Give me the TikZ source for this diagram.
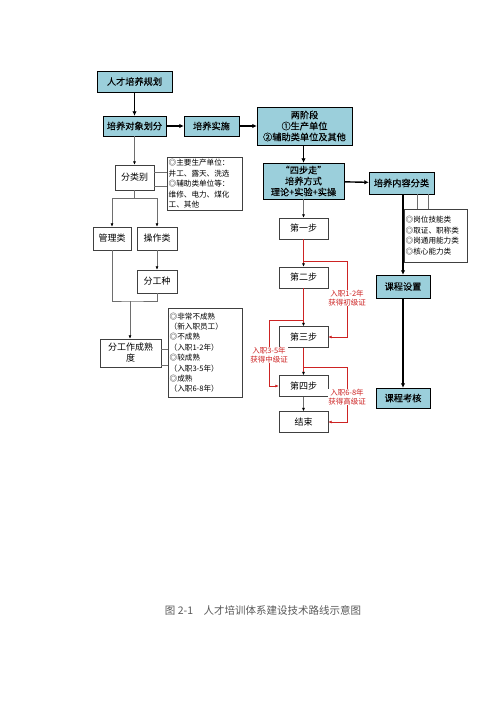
\documentclass[tikz,border=0pt]{standalone}
\usepackage{fontspec}
\setmainfont{Noto Sans CJK SC}
\newfontfamily\darkfont{Noto Sans CJK SC}[FakeBold=0.3]
\usetikzlibrary{arrows.meta}

\definecolor{boxblue}{RGB}{155,207,219}
\definecolor{linegray}{RGB}{110,110,110}
\definecolor{stepred}{RGB}{205,35,35}

\tikzstyle{bluebox}=[draw=black,fill=boxblue,inner sep=0pt,align=center,font=\darkfont\fontsize{9.2}{11}\selectfont]
\tikzstyle{whitebox}=[draw=black!75,fill=white,inner sep=0pt,align=center,font=\fontsize{9}{11}\selectfont]
\tikzstyle{notebox}=[draw=black!75,fill=white,inner sep=1.5pt,align=left,anchor=north west,font=\fontsize{7.6}{10.4}\selectfont]
\tikzstyle{thick arrow}=[draw=black,line width=1.4pt,-{Latex[length=4.5pt,width=4.5pt]}]
\tikzstyle{thin arrow}=[draw=linegray,line width=0.6pt,-{Latex[length=3.5pt,width=3pt,color=black]}]
\tikzstyle{thin line}=[draw=linegray,line width=0.6pt]
\tikzstyle{red arrow}=[draw=stepred,line width=0.6pt,-{Latex[length=3.5pt,width=3pt]}]
\tikzstyle{red label}=[fill=white,text=stepred,inner sep=0.5pt,align=center,font=\fontsize{7.5}{9}\selectfont]

\begin{document}
\begin{tikzpicture}[x=1pt,y=-1pt]
   \useasboundingbox (0,0) rectangle (500,708);

   % left column
   \node[bluebox,minimum width=75pt,minimum height=21pt] (plan) at (134.5,81.5) {人才培养规划};
   \node[bluebox,minimum width=63pt,minimum height=20pt] (target) at (134.5,126) {培养对象划分};
   \node[bluebox,minimum width=55pt,minimum height=20pt] (impl) at (211.5,126) {培养实施};
   \node[whitebox,minimum width=39pt,minimum height=25pt] (sort) at (134.5,177.5) {分类别};
   \node[notebox,text width=72pt,minimum height=53pt] (sortnote) at (167,157)
      {◎主要生产单位：\\井工、露天、洗选\\◎辅助类单位等：\\维修、电力、煤化\\工、其他};
   \node[whitebox,minimum width=38pt,minimum height=23pt] (manage) at (112,238.5) {管理类};
   \node[whitebox,minimum width=40pt,minimum height=23pt] (operate) at (157,238.5) {操作类};
   \node[whitebox,minimum width=40pt,minimum height=23pt] (trade) at (157,281.5) {分工种};
   \node[whitebox,minimum width=61pt,minimum height=28pt] (mature) at (130.5,353) {分工作成熟\\度};
   \node[notebox,text width=71pt,minimum height=89pt] (maturenote) at (168,308)
      {◎非常不成熟\\（新入职员工）\\◎不成熟\\（入职1-2年）\\◎较成熟\\（入职3-5年）\\◎成熟\\（入职6-8年）};

   % middle column
   \node[bluebox,minimum width=95pt,minimum height=38pt] (stages) at (304.5,126) {两阶段\\①生产单位\\②辅助类单位及其他};
   \node[bluebox,minimum width=81pt,minimum height=36pt] (fourstep) at (303.5,181) {“四步走”\\培养方式\\理论+实验+实操};
   \node[whitebox,minimum width=49pt,minimum height=21pt] (step1) at (303.5,228.5) {第一步};
   \node[whitebox,minimum width=49pt,minimum height=21pt] (step2) at (303.5,277.5) {第二步};
   \node[whitebox,minimum width=49pt,minimum height=21pt] (step3) at (303.5,337) {第三步};
   \node[whitebox,minimum width=49pt,minimum height=21pt] (step4) at (303.5,386) {第四步};
   \node[whitebox,minimum width=49pt,minimum height=21pt] (finish) at (303.5,422) {结束};

   % right column
   \node[bluebox,minimum width=65pt,minimum height=22pt] (content) at (401.5,183) {培养内容分类};
   \node[notebox,text width=60pt,minimum height=53pt] (contentnote) at (404,209)
      {◎岗位技能类\\◎取证、职称类\\◎岗通用能力类\\◎核心能力类};
   \node[bluebox,minimum width=54pt,minimum height=23pt] (course) at (403,286.5) {课程设置};
   \node[bluebox,minimum width=54pt,minimum height=20pt] (exam) at (403,398) {课程考核};

   \coordinate (sortsplit) at (134.5,198);
   \coordinate (tradejoin) at (130,301);

   \draw[thick arrow] (plan) -- (target);
   \draw[thick arrow] (target) -- (impl);
   \draw[thick arrow] (impl) -- (stages);
   \draw[thick arrow] (stages.south -| fourstep.north) -- (fourstep.north);
   \draw[thick arrow] (fourstep) -- (content);
   \draw[thick arrow] (content.south -| course.north) -- (course.north);
   \draw[thick arrow] (course) -- (exam);

   \draw[thin arrow] (target) -- (sort);
   \draw[thin line] (sort.south) -- (sortsplit);
   \draw[thin arrow] (sortsplit) -| (manage.north);
   \draw[thin arrow] (sortsplit) -| (operate.north);
   \draw[thin arrow] (operate) -- (trade);
   \draw[thin line] (manage.south) |- (tradejoin) -| (trade.south);
   \draw[thin arrow] (tradejoin) -- (tradejoin |- mature.north);
   \draw[thin line] ([yshift=-8pt]sort.north east) -- ([yshift=-8pt]sort.north east -| sortnote.west);
   \draw[thin line] ([yshift=4pt]sort.south east) -- ([yshift=4pt]sort.south east -| sortnote.west);
   \draw[thin line] ([yshift=-10pt]mature.north east) -- ([yshift=-10pt]mature.north east -| maturenote.west);
   \draw[thin line] ([yshift=2pt]mature.south east) -- ([yshift=2pt]mature.south east -| maturenote.west);
   \draw[thin line] ([xshift=15.5pt]content.south) -- ([xshift=15.5pt]content.south |- contentnote.north);
   \draw[thin line] ([xshift=26.5pt]content.south) -- ([xshift=26.5pt]content.south |- contentnote.north);

   \draw[thin arrow] (fourstep) -- (step1);
   \draw[red arrow,-{Latex[length=3.5pt,width=3pt,color=black]}] (step1) -- (step2);
   \draw[red arrow,-{Latex[length=3.5pt,width=3pt,color=black]}] (step2) -- (step3);
   \draw[red arrow,-{Latex[length=3.5pt,width=3pt,color=black]}] (step3) -- (step4);
   \draw[thin arrow] (step4) -- (finish);

   \draw[red arrow] (303.5,261) -- (347,261) -- (347,337) -- (step3.east);
   \draw[red arrow] (303.5,320) -- (269,320) -- (269,386) -- (step4.west);
   \draw[red arrow] (303.5,367) -- (347,367) -- (347,422) -- (finish.east);
   \node[red label] (lbl12) at (347,298) {入职1-2年\\获得初级证};
   \node[red label] (lbl35) at (269,355) {入职3-5年\\获得中级证};
   \node[red label] (lbl68) at (347,397) {入职6-8年\\获得高级证};

   \node[text=black!65,font=\fontsize{10.5}{12}\selectfont] (caption) at (263,610) {图 2-1\quad 人才培训体系建设技术路线示意图};
\end{tikzpicture}
\end{document}
